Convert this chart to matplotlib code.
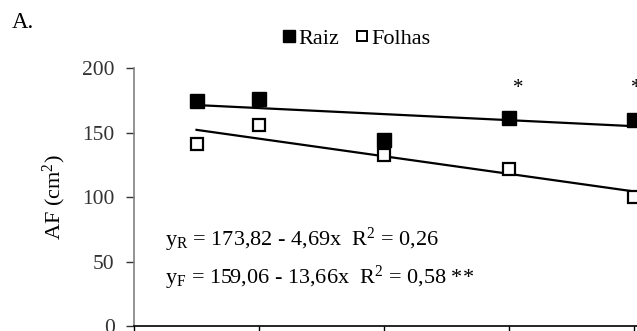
import matplotlib
matplotlib.use("Agg")
import matplotlib.pyplot as plt
from matplotlib.lines import Line2D
import numpy as np

plt.rcParams['font.family'] = ['Liberation Serif', 'DejaVu Serif']
plt.rcParams['mathtext.fontset'] = 'custom'
plt.rcParams['mathtext.rm'] = 'Liberation Serif'
plt.rcParams['mathtext.it'] = 'Liberation Serif:italic'

# Data
x_vals = [0.5, 1, 2, 3, 4]
raiz = [174.7, 176.0, 144.2, 161.8, 160.2]
folhas = [141.6, 155.8, 133.1, 121.5, 100.0]

# Fitted regressions
raiz_a, raiz_b = 173.82, -4.69
folhas_a, folhas_b = 159.06, -13.66
fit_x = [0.5, 4]

# Significance marks (Raiz)
sig_x = [3, 4]
sig_y = [184.5, 184.5]
sig_dx = [0.07, 0.02]

y_ticks = [0, 50, 100, 150, 200]
x_ticks = [0, 1, 2, 3, 4]

W, H = 637, 331
fig = plt.figure(figsize=(W / 100, H / 100), dpi=100)
ax = fig.add_axes([134 / W, (H - 326) / H, (W - 134) / W, (326 - 68.3) / H])

ax.set_xlim(0, (W - 134) / 125)
ax.set_ylim(0, 200)

fx = np.array(fit_x)
ax.plot(fx, raiz_a + raiz_b * fx, color='black', lw=1.6, clip_on=False, zorder=2)
ax.plot(fx, folhas_a + folhas_b * fx, color='black', lw=1.6, clip_on=False, zorder=2)

ax.plot(x_vals, raiz, ls='none', marker='s', ms=9.5, mfc='black', mec='black',
        clip_on=False, zorder=3)
ax.plot(x_vals, folhas, ls='none', marker='s', ms=9, mfc='white', mec='black',
        mew=1.6, clip_on=False, zorder=3)

for sx, sy, dx in zip(sig_x, sig_y, sig_dx):
    ax.text(sx + dx, sy, '*', ha='center', va='center', fontsize=15, clip_on=False)

ax.text(0.25, 66.5, r'y$_{\mathrm{R}}$ = 173,82 - 4,69x  R$^{2}$ = 0,26',
        fontsize=16, va='center', ha='left')
ax.text(0.25, 37.5, r'y$_{\mathrm{F}}$ = 159,06 - 13,66x  R$^{2}$ = 0,58 **',
        fontsize=16, va='center', ha='left')

ax.set_yticks(y_ticks)
ax.set_yticklabels([str(v) for v in y_ticks], fontsize=15.5)
ax.set_xticks(x_ticks)
ax.set_xticklabels([])
ax.tick_params(axis='y', direction='out', length=6, width=1, colors='#333333', pad=8)
ax.tick_params(axis='x', direction='out', length=4, width=1, colors='black')

for s in ('top', 'right'):
    ax.spines[s].set_visible(False)
ax.spines['left'].set_color('#808080')
ax.spines['left'].set_linewidth(1.2)
ax.spines['bottom'].set_color('black')
ax.spines['bottom'].set_linewidth(1.2)

ax.set_ylabel(r'AF (cm$^{2}$)', fontsize=16, labelpad=10)

fig.text(12 / W, 1 - 22 / H, 'A.', fontsize=16.5, va='center', ha='left')

handles = [
    Line2D([], [], ls='none', marker='s', ms=8.5, mfc='black', mec='black'),
    Line2D([], [], ls='none', marker='s', ms=7.5, mfc='white', mec='black', mew=1.4),
]
fig.legend(handles, ['Raiz', 'Folhas'], loc='center', bbox_to_anchor=(357 / W, 1 - 39 / H),
           ncol=2, frameon=False, fontsize=16, handlelength=0.5, handletextpad=0.15,
           columnspacing=0.8, borderpad=0)

fig.savefig('out.png', dpi=100)
